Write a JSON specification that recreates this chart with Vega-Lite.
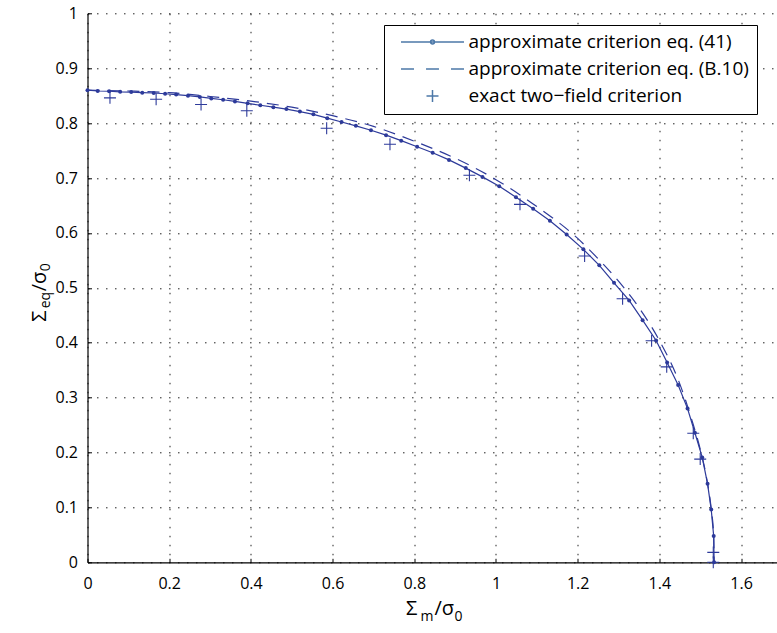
{
  "$schema": "https://vega.github.io/schema/vega-lite/v6.json",
  "width": 689.5,
  "height": 549,
  "autosize": {"type": "none"},
  "padding": {"left": 87.5, "top": 13.3, "right": 0, "bottom": 70.7},
  "background": "white",
  "config": {"view": {"stroke": null}, "font": "Open Sans"},
  "datasets": {
    "c41": [
      {"x": 0, "y": 0.86}, {"x": 0.025, "y": 0.8585}, {"x": 0.053, "y": 0.858}, {"x": 0.08, "y": 0.857},
      {"x": 0.107, "y": 0.8565}, {"x": 0.134, "y": 0.8555}, {"x": 0.162, "y": 0.8548}, {"x": 0.19, "y": 0.8535},
      {"x": 0.217, "y": 0.852}, {"x": 0.246, "y": 0.85}, {"x": 0.275, "y": 0.8477}, {"x": 0.303, "y": 0.845},
      {"x": 0.332, "y": 0.8425}, {"x": 0.361, "y": 0.8395}, {"x": 0.392, "y": 0.836}, {"x": 0.423, "y": 0.8325},
      {"x": 0.455, "y": 0.829}, {"x": 0.487, "y": 0.8255}, {"x": 0.52, "y": 0.821}, {"x": 0.553, "y": 0.816},
      {"x": 0.587, "y": 0.809}, {"x": 0.622, "y": 0.802}, {"x": 0.657, "y": 0.795}, {"x": 0.694, "y": 0.787},
      {"x": 0.731, "y": 0.778}, {"x": 0.768, "y": 0.768}, {"x": 0.807, "y": 0.757}, {"x": 0.845, "y": 0.746},
      {"x": 0.885, "y": 0.733}, {"x": 0.926, "y": 0.718}, {"x": 0.967, "y": 0.702}, {"x": 1.008, "y": 0.685},
      {"x": 1.049, "y": 0.665}, {"x": 1.091, "y": 0.644}, {"x": 1.132, "y": 0.622}, {"x": 1.173, "y": 0.597},
      {"x": 1.214, "y": 0.57}, {"x": 1.253, "y": 0.541}, {"x": 1.289, "y": 0.509}, {"x": 1.326, "y": 0.477},
      {"x": 1.359, "y": 0.441}, {"x": 1.392, "y": 0.404}, {"x": 1.419, "y": 0.364}, {"x": 1.446, "y": 0.323},
      {"x": 1.469, "y": 0.28}, {"x": 1.487, "y": 0.236}, {"x": 1.505, "y": 0.191}, {"x": 1.518, "y": 0.143},
      {"x": 1.527, "y": 0.096}, {"x": 1.533, "y": 0.048}, {"x": 1.534, "y": 0.0}
    ],
    "b10": [
      {"x": 0, "y": 0.86}, {"x": 0.1, "y": 0.8585}, {"x": 0.2, "y": 0.8555}, {"x": 0.3, "y": 0.8485},
      {"x": 0.4, "y": 0.84}, {"x": 0.5, "y": 0.829}, {"x": 0.6, "y": 0.8135}, {"x": 0.7, "y": 0.794},
      {"x": 0.8, "y": 0.767}, {"x": 0.9, "y": 0.736}, {"x": 1.0, "y": 0.697}, {"x": 1.1, "y": 0.648},
      {"x": 1.2, "y": 0.59}, {"x": 1.25, "y": 0.553}, {"x": 1.3, "y": 0.512}, {"x": 1.35, "y": 0.464},
      {"x": 1.4, "y": 0.404}, {"x": 1.45, "y": 0.325}, {"x": 1.48, "y": 0.258}, {"x": 1.5, "y": 0.206},
      {"x": 1.515, "y": 0.156}, {"x": 1.527, "y": 0.097}, {"x": 1.533, "y": 0.048}, {"x": 1.534, "y": 0.0}
    ],
    "exact": [
      {"x": 0.055, "y": 0.846}, {"x": 0.168, "y": 0.8435}, {"x": 0.278, "y": 0.834}, {"x": 0.39, "y": 0.8226},
      {"x": 0.5855, "y": 0.7905}, {"x": 0.7405, "y": 0.7614}, {"x": 0.935, "y": 0.705}, {"x": 1.0588, "y": 0.652},
      {"x": 1.217, "y": 0.558}, {"x": 1.31, "y": 0.48}, {"x": 1.381, "y": 0.4035}, {"x": 1.418, "y": 0.356},
      {"x": 1.483, "y": 0.235}, {"x": 1.5, "y": 0.188}, {"x": 1.532, "y": 0.018}, {"x": 1.532, "y": 0.0}
    ],
    "legend": [
      {"series": "approximate criterion eq. (41)"},
      {"series": "approximate criterion eq. (B.10)"},
      {"series": "exact two\u2212field criterion"}
    ]
  },
  "layer": [
    {
      "data": {"name": "c41"},
      "mark": {"type": "line", "color": "#2d3a9a", "strokeWidth": 1.2},
      "encoding": {
        "x": {"field": "x", "type": "quantitative",
          "scale": {"domain": [0, 1.688], "nice": false, "zero": false},
          "axis": {"orient": "bottom", "title": null, "values": [0, 0.2, 0.4, 0.6, 0.8, 1, 1.2, 1.4, 1.6], "format": "~g",
            "grid": true, "gridColor": "#222222", "gridDash": [1.5, 7.5], "gridWidth": 1, "gridOpacity": 1,
            "domain": true, "domainColor": "black", "domainWidth": 1.2, "ticks": false,
            "labelFont": "Open Sans", "labelFontSize": 16, "labelColor": "black", "labelPadding": 13,
            "labelFlush": false, "labelOverlap": false}},
        "y": {"field": "y", "type": "quantitative",
          "scale": {"domain": [0, 1], "nice": false, "zero": false},
          "axis": {"orient": "left", "title": null, "values": [0, 0.1, 0.2, 0.3, 0.4, 0.5, 0.6, 0.7, 0.8, 0.9, 1], "format": "~g",
            "grid": true, "gridColor": "#222222", "gridDash": [1.5, 7.5], "gridWidth": 1, "gridOpacity": 1,
            "domain": true, "domainColor": "black", "domainWidth": 1.2, "ticks": false,
            "labelFont": "Open Sans", "labelFontSize": 16, "labelColor": "black", "labelPadding": 10,
            "labelFlush": false, "labelOverlap": false}},
        "order": {"field": "y", "sort": "descending"}
      }
    },
    {
      "data": {"name": "c41"},
      "mark": {"type": "point", "filled": true, "color": "#2d3a9a", "size": 16, "opacity": 1},
      "encoding": {
        "x": {"field": "x", "type": "quantitative", "scale": {"domain": [0, 1.688], "nice": false, "zero": false}, "axis": null},
        "y": {"field": "y", "type": "quantitative", "scale": {"domain": [0, 1], "nice": false, "zero": false}, "axis": null}
      }
    },
    {
      "data": {"name": "b10"},
      "mark": {"type": "line", "color": "#2d3a9a", "strokeWidth": 1.2, "strokeDash": [12, 8], "interpolate": "monotone"},
      "encoding": {
        "x": {"field": "x", "type": "quantitative", "scale": {"domain": [0, 1.688], "nice": false, "zero": false}, "axis": null},
        "y": {"field": "y", "type": "quantitative", "scale": {"domain": [0, 1], "nice": false, "zero": false}, "axis": null},
        "order": {"field": "y", "sort": "descending"}
      }
    },
    {
      "data": {"name": "exact"},
      "mark": {"type": "point", "shape": "M-1,0H1M0,-1V1", "filled": false, "color": "#2d3a9a", "size": 144, "strokeWidth": 1.1, "opacity": 1},
      "encoding": {
        "x": {"field": "x", "type": "quantitative", "scale": {"domain": [0, 1.688], "nice": false, "zero": false}, "axis": null},
        "y": {"field": "y", "type": "quantitative", "scale": {"domain": [0, 1], "nice": false, "zero": false}, "axis": null}
      }
    },
    {
      "data": {"name": "legend"},
      "mark": {"type": "point", "opacity": 0},
      "encoding": {
        "shape": {"field": "series", "type": "nominal",
          "scale": {"domain": ["approximate criterion eq. (41)", "approximate criterion eq. (B.10)", "exact two\u2212field criterion"],
            "range": [
              "M0,0H10.5M5.58,0A0.33,0.33 0 1 1 4.92,0A0.33,0.33 0 1 1 5.58,0Z",
              "M0,0H2.17M4.17,0H6.33M8.33,0H10.5",
              "M4.25,0H6.25M5.25,-1V1"
            ]},
          "legend": {"title": null, "orient": "none", "legendX": 296.5, "legendY": 11.7,
            "fillColor": "white", "strokeColor": "black", "padding": 7.5,
            "symbolSize": 144, "labelOffset": 58, "labelFont": "Open Sans", "labelFontSize": 19, "labelColor": "black",
            "rowPadding": 7, "labelLimit": 500,
            "labelExpr": "datum.label + '\u00a0\u00a0\u00a0'",
            "encode": {"symbols": {"update": {"fill": {"value": "#2d3a9a"}, "stroke": {"value": "#2d3a9a"}, "opacity": {"value": 1}, "strokeWidth": {"value": 1.1}}}}
          }
        }
      }
    },
    {
      "data": {"name": "exact"},
      "mark": {"type": "point", "opacity": 0},
      "encoding": {
        "x": {"field": "x", "type": "quantitative", "scale": {"domain": [0, 1.688], "nice": false, "zero": false},
          "axis": {"orient": "bottom", "title": "\u03a3", "titleX": 318, "titleY": 52, "titleAlign": "left", "titleAngle": 0, "titleBaseline": "alphabetic",
            "titleFont": "Open Sans", "titleFontSize": 20, "titleFontWeight": "normal", "titleColor": "black",
            "values": [0, 0.2, 0.4, 0.6, 0.8, 1, 1.2, 1.4, 1.6],
            "labels": false, "ticks": true, "tickSize": -4, "tickColor": "black", "tickWidth": 1, "domain": false, "grid": false}},
        "y": {"field": "y", "type": "quantitative", "scale": {"domain": [0, 1], "nice": false, "zero": false},
          "axis": {"orient": "left", "title": "\u03a3", "titleX": -42.5, "titleY": 308, "titleAlign": "left", "titleAngle": 270, "titleBaseline": "alphabetic",
            "titleFont": "Open Sans", "titleFontSize": 20, "titleFontWeight": "normal", "titleColor": "black",
            "values": [0, 0.1, 0.2, 0.3, 0.4, 0.5, 0.6, 0.7, 0.8, 0.9, 1],
            "labels": false, "ticks": true, "tickSize": -4, "tickColor": "black", "tickWidth": 1, "domain": false, "grid": false}}
      }
    },
    {
      "data": {"name": "exact"},
      "mark": {"type": "point", "opacity": 0},
      "encoding": {
        "x": {"field": "x", "type": "quantitative", "scale": {"domain": [0, 1.688], "nice": false, "zero": false},
          "axis": {"orient": "bottom", "title": "m", "titleX": 332.5, "titleY": 58, "titleAlign": "left", "titleAngle": 0, "titleBaseline": "alphabetic",
            "titleFont": "Open Sans", "titleFontSize": 14, "titleFontWeight": "normal", "titleColor": "black",
            "labels": false, "ticks": false, "domain": false, "grid": false}},
        "y": {"field": "y", "type": "quantitative", "scale": {"domain": [0, 1], "nice": false, "zero": false},
          "axis": {"orient": "left", "title": "eq", "titleX": -38.5, "titleY": 294.5, "titleAlign": "left", "titleAngle": 270, "titleBaseline": "alphabetic",
            "titleFont": "Open Sans", "titleFontSize": 14, "titleFontWeight": "normal", "titleColor": "black",
            "labels": false, "ticks": false, "domain": false, "grid": false}}
      }
    },
    {
      "data": {"name": "exact"},
      "mark": {"type": "point", "opacity": 0},
      "encoding": {
        "x": {"field": "x", "type": "quantitative", "scale": {"domain": [0, 1.688], "nice": false, "zero": false},
          "axis": {"orient": "bottom", "title": "/\u03c3", "titleX": 346.5, "titleY": 52, "titleAlign": "left", "titleAngle": 0, "titleBaseline": "alphabetic",
            "titleFont": "Open Sans", "titleFontSize": 20, "titleFontWeight": "normal", "titleColor": "black",
            "labels": false, "ticks": false, "domain": false, "grid": false}},
        "y": {"field": "y", "type": "quantitative", "scale": {"domain": [0, 1], "nice": false, "zero": false},
          "axis": {"orient": "left", "title": "/\u03c3", "titleX": -42.5, "titleY": 277.5, "titleAlign": "left", "titleAngle": 270, "titleBaseline": "alphabetic",
            "titleFont": "Open Sans", "titleFontSize": 20, "titleFontWeight": "normal", "titleColor": "black",
            "labels": false, "ticks": false, "domain": false, "grid": false}}
      }
    },
    {
      "data": {"name": "exact"},
      "mark": {"type": "point", "opacity": 0},
      "encoding": {
        "x": {"field": "x", "type": "quantitative", "scale": {"domain": [0, 1.688], "nice": false, "zero": false},
          "axis": {"orient": "bottom", "title": "0", "titleX": 366.5, "titleY": 58, "titleAlign": "left", "titleAngle": 0, "titleBaseline": "alphabetic",
            "titleFont": "Open Sans", "titleFontSize": 14, "titleFontWeight": "normal", "titleColor": "black",
            "labels": false, "ticks": false, "domain": false, "grid": false}},
        "y": {"field": "y", "type": "quantitative", "scale": {"domain": [0, 1], "nice": false, "zero": false},
          "axis": {"orient": "left", "title": "0", "titleX": -38.5, "titleY": 257.5, "titleAlign": "left", "titleAngle": 270, "titleBaseline": "alphabetic",
            "titleFont": "Open Sans", "titleFontSize": 14, "titleFontWeight": "normal", "titleColor": "black",
            "labels": false, "ticks": false, "domain": false, "grid": false}}
      }
    }
  ],
  "resolve": {"axis": {"x": "independent", "y": "independent"}}
}
